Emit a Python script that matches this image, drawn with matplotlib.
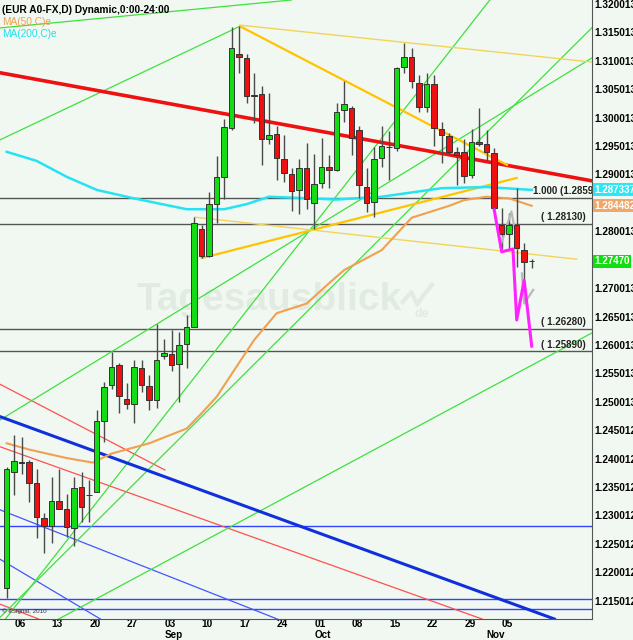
import matplotlib
matplotlib.use('Agg')
import matplotlib.pyplot as plt

plt.rcParams['font.family'] = ['Liberation Sans', 'DejaVu Sans']

# Daily EUR candles, index 0 = Fri 03 Aug 2012 (trading days only)
opens = [1.2172, 1.2377, 1.2394, 1.2394, 1.2357, 1.2296, 1.2282, 1.2326, 1.2312, 1.2278,
         1.2350, 1.2336, 1.2342, 1.2466, 1.2530, 1.2565, 1.2505, 1.2496, 1.2560, 1.2528,
         1.2503, 1.2581, 1.2584, 1.2566, 1.2602, 1.2631, 1.2804, 1.2757, 1.2848, 1.2896,
         1.2982, 1.3112, 1.3105, 1.3040, 1.3041, 1.2963, 1.2972, 1.2928, 1.2901, 1.2873,
         1.2912, 1.2850, 1.2885, 1.2914, 1.2908, 1.3014, 1.3018, 1.2979, 1.2878, 1.2852,
         1.2930, 1.2948, 1.2947, 1.3089, 1.3107, 1.3061, 1.3019, 1.3060, 1.2981, 1.2967,
         1.2939, 1.2939, 1.2900, 1.2958, 1.2954, 1.2938, 1.2811, 1.2795, 1.2811, 1.2767,
         1.2747]
highs = [1.2385, 1.2441, 1.2438, 1.2398, 1.2382, 1.2304, 1.2368, 1.2382, 1.2338, 1.2368,
         1.2377, 1.2363, 1.2485, 1.2535, 1.2588, 1.2569, 1.2533, 1.2574, 1.2574, 1.2547,
         1.2637, 1.2611, 1.2627, 1.2623, 1.2652, 1.2825, 1.2811, 1.2870, 1.2933, 1.2997,
         1.3160, 1.3162, 1.3112, 1.3079, 1.3055, 1.3043, 1.2986, 1.2969, 1.2912, 1.2928,
         1.2956, 1.2937, 1.2965, 1.2935, 1.3026, 1.3065, 1.3020, 1.2986, 1.2912, 1.2949,
         1.2986, 1.2977, 1.3090, 1.3132, 1.3123, 1.3075, 1.3079, 1.3076, 1.2992, 1.2974,
         1.2949, 1.2963, 1.2981, 1.3018, 1.2979, 1.2947, 1.2841, 1.2832, 1.2877, 1.2780,
         1.2751]
lows = [1.2154, 1.2336, 1.2373, 1.2324, 1.2260, 1.2234, 1.2251, 1.2312, 1.2262, 1.2246,
        1.2289, 1.2289, 1.2342, 1.2429, 1.2523, 1.2480, 1.2488, 1.2462, 1.2517, 1.2486,
        1.2490, 1.2575, 1.2554, 1.2500, 1.2560, 1.2631, 1.2753, 1.2755, 1.2815, 1.2857,
        1.2978, 1.3079, 1.3026, 1.2990, 1.2917, 1.2954, 1.2891, 1.2887, 1.2836, 1.2831,
        1.2839, 1.2804, 1.2877, 1.2877, 1.2907, 1.2992, 1.2934, 1.2858, 1.2834, 1.2826,
        1.2914, 1.2891, 1.2942, 1.3079, 1.3052, 1.3010, 1.3010, 1.2951, 1.2921, 1.2935,
        1.2882, 1.2886, 1.2894, 1.2951, 1.2923, 1.2838, 1.2769, 1.2767, 1.2737, 1.2716,
        1.2736]
closes = [1.2382, 1.2395, 1.2393, 1.2357, 1.2297, 1.2282, 1.2326, 1.2312, 1.2280, 1.2349,
          1.2315, 1.2336, 1.2467, 1.2526, 1.2562, 1.2510, 1.2496, 1.2561, 1.2530, 1.2503,
          1.2574, 1.2586, 1.2565, 1.2600, 1.2632, 1.2815, 1.2757, 1.2848, 1.2896, 1.2983,
          1.3123, 1.3107, 1.3038, 1.3039, 1.2963, 1.2969, 1.2930, 1.2903, 1.2871, 1.2912,
          1.2857, 1.2884, 1.2914, 1.2908, 1.3010, 1.3024, 1.2964, 1.2882, 1.2850, 1.2928,
          1.2951, 1.2948, 1.3088, 1.3107, 1.3065, 1.3019, 1.3059, 1.2982, 1.2970, 1.2940,
          1.2935, 1.2898, 1.2958, 1.2954, 1.2940, 1.2841, 1.2795, 1.2811, 1.2771, 1.2746,
          1.2747]

# moving averages (read at a few trading-day positions)
ma50_idx = [0, 3, 8, 11.5, 12.4, 14, 19, 24, 26, 28, 33, 36, 40, 43, 45, 50, 54, 59, 61, 64, 67, 70]
ma50_val = [1.2427, 1.2416, 1.2401, 1.2393, 1.2399, 1.2409, 1.2427, 1.2453, 1.2480, 1.2509,
            1.2609, 1.2656, 1.2673, 1.2709, 1.2732, 1.2767, 1.2824, 1.2845, 1.2855, 1.2861,
            1.2858, 1.2845]
ma200_idx = [0, 4, 8, 12, 17, 24, 29, 32, 35, 44, 50, 58, 64, 70]
ma200_val = [1.2940, 1.2924, 1.2896, 1.2873, 1.2858, 1.2839, 1.2839, 1.2848, 1.2861, 1.2856,
             1.2861, 1.2876, 1.2878, 1.2873]

# x axis labels (Mondays) and months
week_ticks = [1, 6, 11, 16, 21, 26, 31, 36, 41, 46, 51, 56, 61, 66]
week_labels = ['06', '13', '20', '27', '03', '10', '17', '24', '01', '08', '15', '22', '29', '05']
month_ticks = [21, 41, 64]
month_labels = ['Sep', 'Oct', 'Nov']

# right axis
price_ticks = [1.320013, 1.315013, 1.310013, 1.305013, 1.300013, 1.295013, 1.290013, 1.280013,
               1.270013, 1.265013, 1.260013, 1.255013, 1.250013, 1.245012, 1.240012, 1.235012,
               1.230012, 1.225012, 1.220012, 1.215012]
last_ma200 = 1.287337
last_ma50 = 1.284482
last_price = 1.27470

# horizontal levels
levels = [1.2859, 1.2813, 1.2628, 1.2589]
level_labels = ['1.000 (1.28590)', '( 1.28130)', '( 1.26280)', '( 1.25890)']
level_label_x = [70.2, 71.2, 71.2, 71.2]
blue_levels = [1.2281, 1.2153, 1.2135]

# trend lines as (index, price) anchor pairs
red_main = [(0, 1.3077), (78, 1.2889)]
red_seg = [(-0.9, 1.2531), (21.1, 1.2380)]
red_rays = [[(-0.9, 1.2421), (64.4, 1.2113)],
            [(-0.9, 1.2144), (5.0, 1.2114)]]
blue_main = [(-0.9, 1.2474), (73.4, 1.2116)]
blue_thin = [[(-0.9, 1.2310), (36.8, 1.2114)],
             [(-0.9, 1.2223), (13.1, 1.2113)]]
green_seg = [(-0.9, 1.2961), (31.1, 1.3161)]
green_rays = [[(-0.9, 1.3158), (37.8, 1.3207)],
              [(-0.9, 1.2468), (78.0, 1.3105)],
              [(1.8, 1.2151), (64.4, 1.3207)],
              [(8.8, 1.2248), (78.0, 1.3158)],
              [(5.4, 1.2107), (78.0, 1.2621)]]
gold_thick = [[(31.1, 1.3161), (66.7, 1.2917)],
              [(26.0, 1.2753), (68.0, 1.2894)]]
gold_thin = [[(31.1, 1.3163), (78.0, 1.3098)],
             [(25.1, 1.2825), (76.0, 1.2751)]]
proj_idx = [65, 66, 67.5, 68, 69, 70]
proj_val = [1.2838, 1.2764, 1.2769, 1.2644, 1.2714, 1.2598]
ghost_idx = [[65.8, 67.3, 68.2], [68.7, 69.0, 70.2]]
ghost_val = [[1.2773, 1.2835, 1.2770], [1.2726, 1.2673, 1.2697]]

bg = '#f1f8f1'
fig = plt.figure(figsize=(6.33, 6.40), dpi=100, facecolor=bg)
ax = fig.add_axes([0.0, 1 - 619 / 640, 592 / 633, 619 / 640], facecolor=bg)
ax.set_xlim(-0.893, 78.04)
ax.set_ylim(1.21178, 1.32072)

# watermark
wm = '#e2ebe2'
ax.text(0.23, 0.515, 'Tagesausblick', transform=ax.transAxes, fontsize=28, fontweight='bold',
        color=wm, va='center', ha='left', zorder=0)
ax.text(0.70, 0.488, 'de', transform=ax.transAxes, fontsize=9, fontweight='bold',
        color=wm, zorder=0)
ax.plot([0.68, 0.695, 0.705, 0.715, 0.73], [0.512, 0.528, 0.508, 0.523, 0.54],
        transform=ax.transAxes, color=wm, lw=3, zorder=0)

# horizontal levels
for lv, lab, lx in zip(levels, level_labels, level_label_x):
    ax.axhline(lv, color='#555555', lw=1, zorder=1)
    ax.text(lx, lv + 0.0003, lab, fontsize=7, fontweight='bold', color='#222222',
            va='bottom', ha='left', clip_on=True, zorder=5)
for lv in blue_levels:
    ax.axhline(lv, color='#3344ff', lw=1, zorder=1)

# trend lines
ax.axline(red_main[0], red_main[1], color='#ee1111', lw=2.6, zorder=2)
ax.plot([red_seg[0][0], red_seg[1][0]], [red_seg[0][1], red_seg[1][1]],
        color='#ff5050', lw=0.9, zorder=1)
for seg in red_rays:
    ax.axline(seg[0], seg[1], color='#ff5050', lw=0.9, zorder=1)
ax.axline(blue_main[0], blue_main[1], color='#1030dd', lw=2.2, zorder=2)
for seg in blue_thin:
    ax.axline(seg[0], seg[1], color='#4455ff', lw=0.9, zorder=1)
ax.plot([green_seg[0][0], green_seg[1][0]], [green_seg[0][1], green_seg[1][1]],
        color='#3fe03f', lw=0.9, zorder=1)
for seg in green_rays:
    ax.axline(seg[0], seg[1], color='#3fe03f', lw=0.9, zorder=1)
for seg in gold_thick:
    ax.plot([seg[0][0], seg[1][0]], [seg[0][1], seg[1][1]], color='#ffc400', lw=1.6, zorder=2)
for seg in gold_thin:
    ax.plot([seg[0][0], seg[1][0]], [seg[0][1], seg[1][1]], color='#f2d45a', lw=1.0, zorder=2)

# moving averages
ax.plot(ma200_idx, ma200_val, color='#25e3f2', lw=1.8, zorder=2)
ax.plot(ma50_idx, ma50_val, color='#f0a050', lw=1.5, zorder=2)

# candles
idx = list(range(len(opens)))
ax.vlines(idx, lows, highs, color='#4a4a4a', lw=1, zorder=3)
bottoms = [min(o, c) for o, c in zip(opens, closes)]
heights = [abs(c - o) for o, c in zip(opens, closes)]
colors = ['#14dc14' if c > o else ('#ee1111' if c < o else '#333333') for o, c in zip(opens, closes)]
ax.bar(idx, heights, bottom=bottoms, width=0.72, color=colors, edgecolor='#333333',
       linewidth=0.7, zorder=4)

# projected path
for gi, gv in zip(ghost_idx, ghost_val):
    ax.plot(gi, gv, color='#b8b8b8', lw=1.6, zorder=3)
ax.plot(proj_idx, proj_val, color='#ff22ff', lw=2.2, zorder=5)

# axes styling
for side in ['top', 'left']:
    ax.spines[side].set_visible(False)
ax.spines['right'].set_color('#555555')
ax.spines['bottom'].set_color('#555555')
ax.yaxis.tick_right()
ax.set_yticks(price_ticks, [f'{v:.6f}' for v in price_ticks])
ax.tick_params(axis='y', length=0, pad=1.5, labelsize=7.3)
for lbl in ax.get_yticklabels():
    lbl.set_fontweight('bold')
ax.set_xticks(week_ticks, week_labels)
ax.tick_params(axis='x', length=0, pad=0, labelsize=7.3, color='#555555')
for lbl in ax.get_xticklabels():
    lbl.set_fontweight('bold')
    lbl.set_ha('left')
for m, lab in zip(month_ticks, month_labels):
    ax.text(m, -0.0258, lab, transform=ax.get_xaxis_transform(), fontsize=7.1,
            fontweight='bold', ha='left', va='center', clip_on=False)

# value boxes on the right axis
ytr = ax.get_yaxis_transform()
for val, txt, fc in [(last_ma200, '1.287337', '#2ee6f5'), (last_ma50, '1.284482', '#f0a868'),
                     (last_price, '1.27470', '#11dd11')]:
    ax.text(1.004, val, txt, transform=ytr, fontsize=7.1, fontweight='bold', color='white',
            va='center', ha='left', clip_on=False, zorder=6,
            bbox=dict(boxstyle='square,pad=0.15', fc=fc, ec='none'))

# header texts
ax.text(0.003, 0.992, '(EUR A0-FX,D) Dynamic,0:00-24:00', transform=ax.transAxes,
        fontsize=7.3, fontweight='bold', va='top', zorder=6)
ax.text(0.003, 0.972, 'MA(50,C)e', transform=ax.transAxes, fontsize=7.3,
        color='#f0a050', va='top', zorder=6)
ax.text(0.003, 0.953, 'MA(200,C)e', transform=ax.transAxes, fontsize=7.3,
        color='#1ee0ee', va='top', zorder=6)
ax.text(0.003, 0.008, '\u00a9 eSignal, 2010', transform=ax.transAxes, fontsize=4.5,
        color='#333333', va='bottom', zorder=6)

plt.savefig('out.png', dpi=100, facecolor=bg)
